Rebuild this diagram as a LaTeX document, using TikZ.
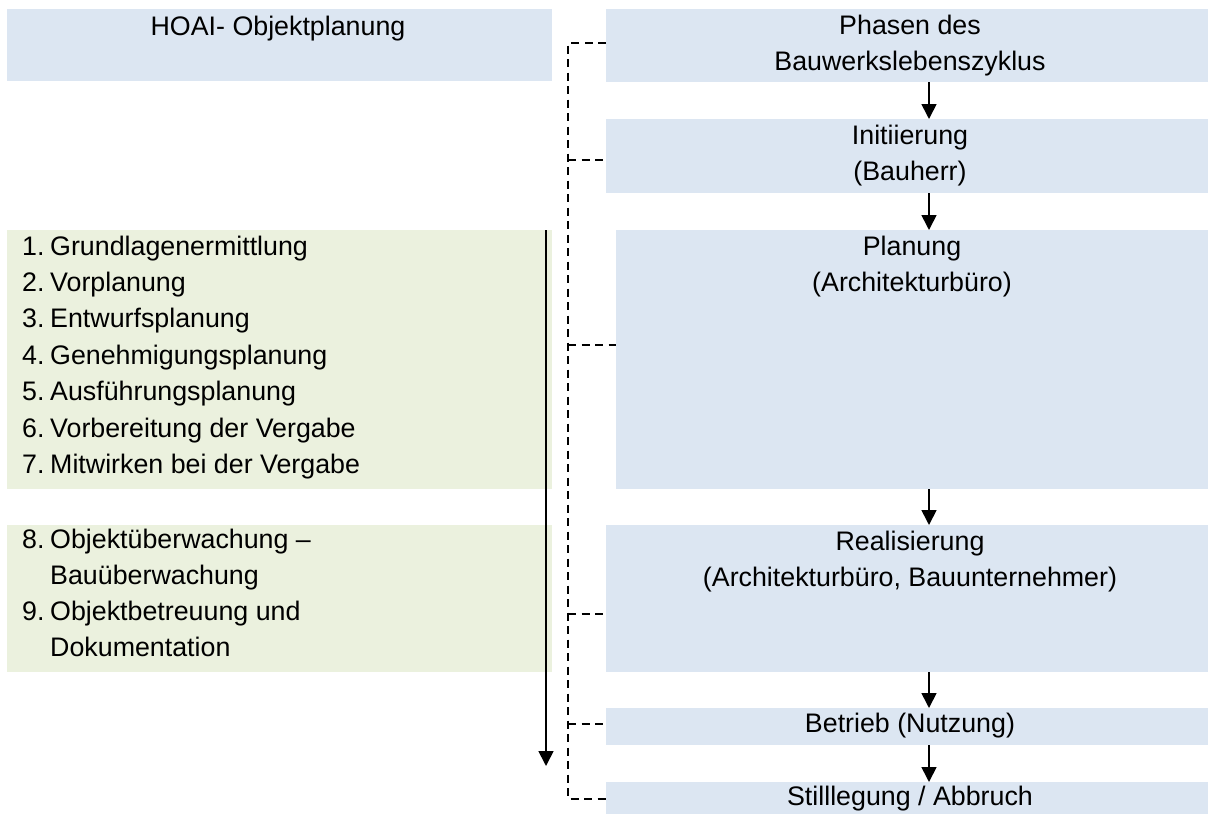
\documentclass[tikz,border=0pt]{standalone}
\usepackage{fontspec}
\setmainfont{Liberation Sans}
\usetikzlibrary{arrows.meta}
\definecolor{phaseblue}{HTML}{DCE6F2}
\definecolor{hoaigreen}{HTML}{EBF1DE}
\newcommand{\lpnum}[1]{\makebox[28pt][l]{#1}}

\begin{document}
\begin{tikzpicture}[x=1pt,y=-1pt,
  box/.style={anchor=north west, inner sep=0pt, outer sep=0pt, draw=none},
  bluebox/.style={box, fill=phaseblue},
  greenbox/.style={box, fill=hoaigreen},
  lbl/.style={anchor=base, inner sep=0pt, font=\fontsize{26.8}{32}\selectfont},
  item/.style={lbl, anchor=base west},
  flow/.style={line width=1.7pt, -{Triangle[width=15pt,length=15pt]}},
  bracket/.style={line width=1.5pt, dash pattern=on 8pt off 5.5pt}]

\useasboundingbox (0,0) rectangle (1208,814);

% boxes
\node[bluebox, minimum width=545pt, minimum height=72pt] (hoai) at (7,9) {};
\node[bluebox, minimum width=602pt, minimum height=73pt] (phasen) at (606,9) {};
\node[bluebox, minimum width=602pt, minimum height=74pt] (init) at (606,119) {};
\node[greenbox, minimum width=545pt, minimum height=259pt] (lp1) at (7,230) {};
\node[bluebox, minimum width=592pt, minimum height=259pt] (plan) at (616,230) {};
\node[greenbox, minimum width=545pt, minimum height=147pt] (lp2) at (7,525) {};
\node[bluebox, minimum width=602pt, minimum height=147pt] (real) at (606,525) {};
\node[bluebox, minimum width=602pt, minimum height=37pt] (betr) at (606,708) {};
\node[bluebox, minimum width=602pt, minimum height=32pt] (still) at (606,782) {};

% headings and phase labels
\node[lbl] (thoai) at (278,35) {HOAI- Objektplanung};
\node[lbl] (tph1) at (910,34) {Phasen des};
\node[lbl] (tph2) at (910,70) {Bauwerkslebenszyklus};
\node[lbl] (tin1) at (910,144) {Initiierung};
\node[lbl] (tin2) at (910,180) {(Bauherr)};
\node[lbl] (tpl1) at (912,255) {Planung};
\node[lbl] (tpl2) at (912,291) {(Architekturbüro)};
\node[lbl] (tre1) at (910,550) {Realisierung};
\node[lbl] (tre2) at (910,586) {(Architekturbüro, Bauunternehmer)};
\node[lbl] (tbe) at (910,732) {Betrieb (Nutzung)};
\node[lbl] (tst) at (910,805) {Stilllegung / Abbruch};

% HOAI service phases
\node[item] (l1) at (22,255.0) {\lpnum{1.}Grundlagenermittlung};
\node[item] (l2) at (22,291.4) {\lpnum{2.}Vorplanung};
\node[item] (l3) at (22,327.8) {\lpnum{3.}Entwurfsplanung};
\node[item] (l4) at (22,364.2) {\lpnum{4.}Genehmigungsplanung};
\node[item] (l5) at (22,400.6) {\lpnum{5.}Ausführungsplanung};
\node[item] (l6) at (22,437.0) {\lpnum{6.}Vorbereitung der Vergabe};
\node[item] (l7) at (22,473.4) {\lpnum{7.}Mitwirken bei der Vergabe};
\node[item] (m1) at (22,548) {\lpnum{8.}Objektüberwachung –};
\node[item] (m2) at (50,584) {Bauüberwachung};
\node[item] (m3) at (22,620) {\lpnum{9.}Objektbetreuung und};
\node[item] (m4) at (50,656) {Dokumentation};

% flow between the phases
\coordinate (ax) at (929,0);
\draw[flow] (phasen.south -| ax) -- (init.north -| ax);
\draw[flow] (init.south -| ax) -- (plan.north -| ax);
\draw[flow] (plan.south -| ax) -- (real.north -| ax);
\draw[flow] (real.south -| ax) -- (betr.north -| ax);
\draw[flow] (betr.south -| ax) -- (still.north -| ax);

% time axis beside the HOAI phases
\coordinate (lx) at (546,0);
\coordinate (lend) at (546,766);
\draw[flow] (lp1.north -| lx) -- (lend);

% dashed bracket tying the phases together
\coordinate (b1) at (568,43);
\coordinate (b2) at (568,160);
\coordinate (b3) at (568,345);
\coordinate (b4) at (568,614);
\coordinate (b5) at (568,724);
\coordinate (b6) at (568,799);
\draw[bracket] (phasen.west |- b1) -- (b1) -- (b6) -- (still.west |- b6);
\draw[bracket] (b2) -- (init.west |- b2);
\draw[bracket] (b3) -- (plan.west |- b3);
\draw[bracket] (b4) -- (real.west |- b4);
\draw[bracket] (b5) -- (betr.west |- b5);
\end{tikzpicture}
\end{document}
